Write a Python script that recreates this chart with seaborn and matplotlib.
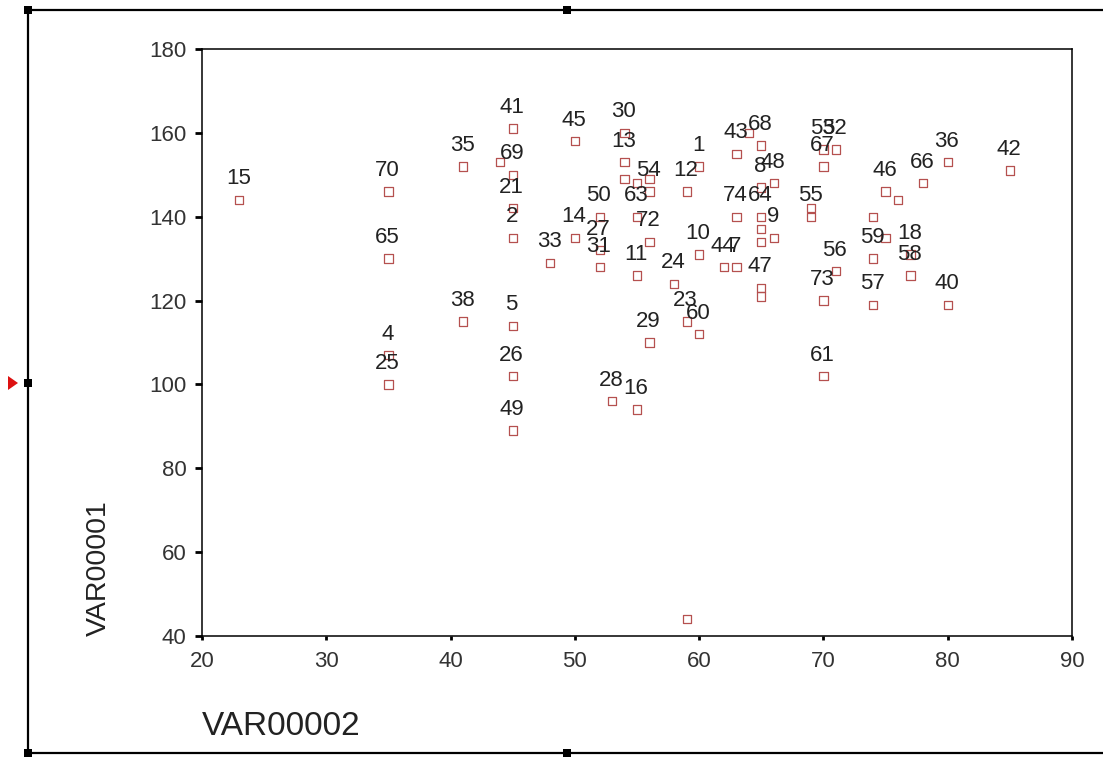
import numpy as np
import pandas as pd
import matplotlib
matplotlib.use("Agg")
import matplotlib.pyplot as plt
import seaborn as sns
from matplotlib.lines import Line2D
from matplotlib.patches import Rectangle, Polygon

# ---- data (case label, VAR00002, VAR00001) ----
case_labels = ["15", "70", "65", "4", "25", "35", "38", "", "41", "69",
               "21", "2", "5", "26", "49", "33", "45", "14", "50", "27",
               "31", "28", "30", "13", "", "", "63", "11", "16", "",
               "54", "72", "29", "24", "12", "23", "", "1", "10", "60",
               "44", "43", "74", "7", "", "68", "8", "64", "", "",
               "47", "", "48", "9", "", "55", "53", "67", "73", "61",
               "52", "56", "59", "", "57", "46", "", "", "18", "58",
               "66", "36", "40", "42"]
var00002 = [23, 35, 35, 35, 35, 41, 41, 44, 45, 45,
            45, 45, 45, 45, 45, 48, 50, 50, 52, 52,
            52, 53, 54, 54, 54, 55, 55, 55, 55, 56,
            56, 56, 56, 58, 59, 59, 59, 60, 60, 60,
            62, 63, 63, 63, 64, 65, 65, 65, 65, 65,
            65, 65, 66, 66, 69, 69, 70, 70, 70, 70,
            71, 71, 74, 74, 74, 75, 75, 76, 77, 77,
            78, 80, 80, 85]
var00001 = [144, 146, 130, 107, 100, 152, 115, 153, 161, 150,
            142, 135, 114, 102, 89, 129, 158, 135, 140, 132,
            128, 96, 160, 153, 149, 148, 140, 126, 94, 149,
            146, 134, 110, 124, 146, 115, 44, 152, 131, 112,
            128, 155, 140, 128, 160, 157, 147, 140, 137, 134,
            123, 121, 148, 135, 142, 140, 156, 152, 120, 102,
            156, 127, 130, 140, 119, 146, 135, 144, 131, 126,
            148, 153, 119, 151]

x_ticks = [20, 30, 40, 50, 60, 70, 80, 90]
y_ticks = [40, 60, 80, 100, 120, 140, 160, 180]
x_title = "VAR00002"
y_title = "VAR00001"

sns.set_theme(style="white")
plt.rcParams["font.family"] = ["Liberation Sans", "DejaVu Sans"]

W, H = 1103, 759
fig = plt.figure(figsize=(W / 100, H / 100), dpi=100)
fig.patch.set_facecolor("white")


def fx(px):
    return px / W


def fy(py):
    return 1 - py / H


ax = fig.add_axes([fx(202), fy(636), (1072 - 202) / W, (636 - 49) / H])

df = pd.DataFrame({x_title: var00002, y_title: var00001, "case": case_labels})
sns.scatterplot(data=df, x=x_title, y=y_title, marker="s", s=36,
                facecolor="none", edgecolor="#b5504f", linewidth=0.9,
                ax=ax, zorder=3)

for lbl, x, y in zip(case_labels, var00002, var00001):
    if lbl:
        ax.annotate(lbl, (x, y), xytext=(-1, 21), textcoords="offset pixels",
                    ha="center", va="center", fontsize=16, color="#222222",
                    zorder=4)

ax.set_xlim(20, 90)
ax.set_ylim(40, 180)
ax.set_xticks(x_ticks)
ax.set_yticks(y_ticks)
ax.set_facecolor("white")
for sp in ax.spines.values():
    sp.set_visible(True)
    sp.set_color("black")
    sp.set_linewidth(1.1)

ax.tick_params(axis="y", left=True, length=5, width=2, color="black",
               pad=6, labelsize=16, labelcolor="#333333")
ax.tick_params(axis="x", bottom=True, length=3, width=2, color="black",
               pad=8, labelsize=16, labelcolor="#333333")

ax.set_xlabel(x_title, loc="left", fontsize=24, color="#222222")
ax.xaxis.set_label_coords(0, -0.128)
ax.set_ylabel(y_title, loc="bottom", fontsize=20.5, color="#222222")
ax.yaxis.set_label_coords(-0.104, 0)

# ---- outer selection frame (SPSS chart editor look) ----
lw = 1.6
fig.add_artist(Line2D([fx(28), 1], [fy(10), fy(10)], transform=fig.transFigure,
                      color="black", lw=lw))
fig.add_artist(Line2D([fx(28), fx(28)], [fy(10), fy(753)], transform=fig.transFigure,
                      color="black", lw=lw))
fig.add_artist(Line2D([fx(28), 1], [fy(753), fy(753)], transform=fig.transFigure,
                      color="black", lw=lw))

hs = 8
for (px, py) in [(28, 10), (567, 10), (28, 383), (28, 753), (567, 753)]:
    fig.add_artist(Rectangle((fx(px - hs / 2), fy(py + hs / 2)), hs / W, hs / H,
                             transform=fig.transFigure, facecolor="black",
                             edgecolor="none"))

fig.add_artist(Polygon([(fx(8), fy(376)), (fx(18), fy(383)), (fx(8), fy(390))],
                       closed=True, transform=fig.transFigure,
                       facecolor="#dd1111", edgecolor="none"))

fig.savefig("out.png", dpi=100, facecolor="white")
